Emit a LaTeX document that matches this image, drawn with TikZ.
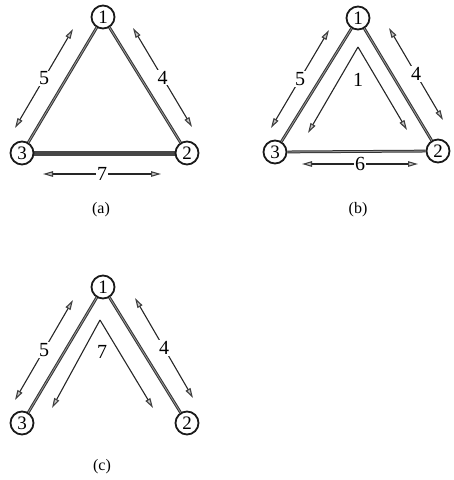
\documentclass[tikz,border=0pt]{standalone}
\usepackage{fontspec}
\setmainfont{Liberation Serif}
\usetikzlibrary{arrows.meta}
\tikzset{
  vtx/.style={circle, draw=black!90, line width=1.8pt, fill=white, minimum size=23pt, inner sep=0pt,
    font=\fontsize{19}{19}\selectfont},
  edge/.style={draw=black!80, double=gray!80, double distance=0.8pt, line width=1pt},
  heavy/.style={draw=black!72, line width=5pt},
  twoway/.style={draw=black!85, line width=1.1pt, {Triangle[length=10pt, width=5.5pt, fill=gray!45, color=black!75]}-{Triangle[length=10pt, width=5.5pt, fill=gray!45, color=black!75]}},
  oneway/.style={draw=black!85, line width=1.1pt, -{Triangle[length=10pt, width=5.5pt, fill=gray!45, color=black!75]}},
  lbl/.style={fill=white, inner sep=1pt, font=\fontsize{20}{20}\selectfont},
  caption/.style={font=\fontsize{16}{16}\selectfont}
}
\begin{document}
\begin{tikzpicture}[x=1pt, y=-1pt]
\useasboundingbox (0,0) rectangle (454,480);

% ---- (a) ----
\draw[heavy] (22,153) -- (187,153);
\node[vtx] (a1) at (103,17) {1};
\node[vtx] (a3) at (22,153) {3};
\node[vtx] (a2) at (187,153) {2};
\draw[edge] (a1) -- (a3);
\draw[edge] (a1) -- (a2);
\coordinate (a5s) at (73,29);  \coordinate (a5e) at (15,128);
\coordinate (a4s) at (133,28); \coordinate (a4e) at (192,127);
\coordinate (a7s) at (43,174); \coordinate (a7e) at (161,174);
\draw[twoway] (a5s) -- node[lbl] (la5) {5} (a5e);
\draw[twoway] (a4s) -- node[lbl] (la4) {4} (a4e);
\draw[twoway] (a7s) -- node[lbl] (la7) {7} (a7e);
\node[caption] (capa) at (101,210) {(a)};

% ---- (b) ----
\node[vtx] (b1) at (358,18) {1};
\node[vtx] (b3) at (275,152) {3};
\node[vtx] (b2) at (438,151) {2};
\draw[edge] (b1) -- (b3);
\draw[edge] (b1) -- (b2);
\draw[edge] (b3) -- (b2);
\coordinate (b5s) at (329,30);  \coordinate (b5e) at (271,128);
\coordinate (b4s) at (389,28);  \coordinate (b4e) at (443,120);
\coordinate (b6s) at (302,164); \coordinate (b6e) at (418,164);
\draw[twoway] (b5s) -- node[lbl] (lb5) {5} (b5e);
\draw[twoway] (b4s) -- node[lbl] (lb4) {4} (b4e);
\draw[twoway] (b6s) -- node[lbl] (lb6) {6} (b6e);
\coordinate (bap) at (358,47);
\coordinate (bL) at (308,133);
\coordinate (bR) at (407,130);
\draw[oneway] (bap) -- (bL);
\draw[oneway] (bap) -- (bR);
\node[lbl, fill=none] (lb1) at (358,80) {1};
\node[caption] (capb) at (358,210) {(b)};

% ---- (c) ----
\node[vtx] (c1) at (103,287) {1};
\node[vtx] (c3) at (22,423) {3};
\node[vtx] (c2) at (187,423) {2};
\draw[edge] (c1) -- (c3);
\draw[edge] (c1) -- (c2);
\coordinate (c5s) at (73,300);  \coordinate (c5e) at (15,400);
\coordinate (c4s) at (135,298); \coordinate (c4e) at (193,398);
\draw[twoway] (c5s) -- node[lbl] (lc5) {5} (c5e);
\draw[twoway] (c4s) -- node[lbl] (lc4) {4} (c4e);
\coordinate (cap) at (100,320);
\coordinate (cL) at (52,408);
\coordinate (cR) at (153,408);
\draw[oneway] (cap) -- (cL);
\draw[oneway] (cap) -- (cR);
\node[lbl, fill=none] (lc7) at (102,352) {7};
\node[caption] (capc) at (102,467) {(c)};
\end{tikzpicture}
\end{document}
